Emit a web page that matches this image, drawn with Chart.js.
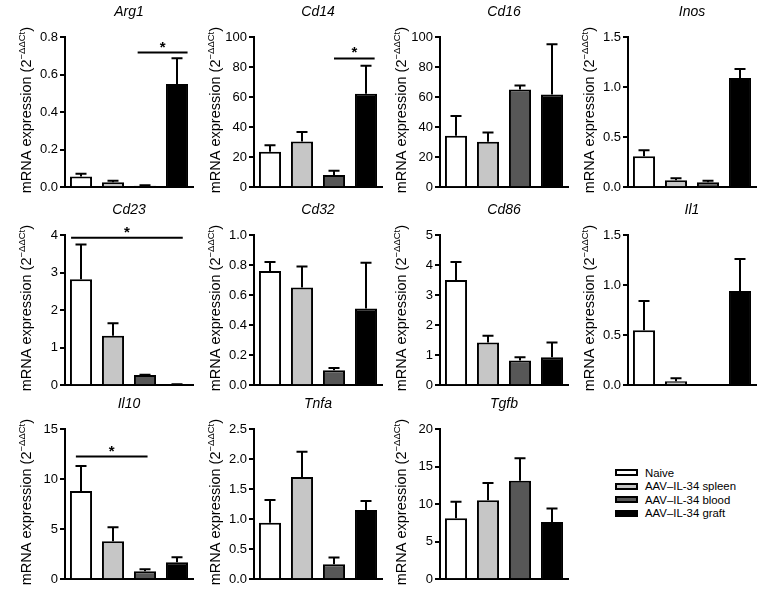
<!DOCTYPE html>
<html>
<head>
<meta charset="utf-8">
<script src="https://cdn.jsdelivr.net/npm/chart.js@4.4.0/dist/chart.umd.min.js"></script>
<style>
  body { margin: 0; background: #fff; font-family: "Liberation Sans", Arial, sans-serif; }
  #fig { position: relative; width: 772px; height: 596px; overflow: hidden; }
  #fig canvas { position: absolute; }
  #legend { position: absolute; left: 615px; top: 467px; font-size: 11.4px; color: #000; }
  #legend div { height: 13.4px; line-height: 13.4px; white-space: nowrap; }
  #legend span { display: inline-block; width: 19px; height: 3px; border: 2px solid #000; margin-right: 7px; vertical-align: middle; position: relative; top: -1px; }
</style>
</head>
<body>
<div id="fig">
  <div id="legend"></div>
</div>
<script>
const groups = ['Naive', 'AAV\u2013IL-34 spleen', 'AAV\u2013IL-34 blood', 'AAV\u2013IL-34 graft'];
const barColors = ['#ffffff', '#c6c6c6', '#575757', '#000000'];

// mean and SEM for each gene (Naive, spleen, blood, graft)
const arg1Mean = [0.057, 0.027, 0.008, 0.55];
const arg1Sem = [0.014, 0.007, 0.003, 0.137];
const cd14Mean = [23.6, 30.5, 8.2, 62.2];
const cd14Sem = [4.4, 6.3, 2.8, 18.6];
const cd16Mean = [34.2, 30.2, 65, 61.7];
const cd16Sem = [13.2, 6.2, 2.7, 33.5];
const inosMean = [0.31, 0.07, 0.05, 1.09];
const inosSem = [0.06, 0.02, 0.015, 0.09];
const cd23Mean = [2.82, 1.32, 0.27, 0.02];
const cd23Sem = [0.93, 0.33, 0.01, 0.005];
const cd32Mean = [0.76, 0.65, 0.10, 0.51];
const cd32Sem = [0.06, 0.14, 0.015, 0.305];
const cd86Mean = [3.5, 1.42, 0.82, 0.93];
const cd86Sem = [0.6, 0.23, 0.11, 0.49];
const il1Mean = [0.55, 0.04, 0, 0.94];
const il1Sem = [0.29, 0.03, 0, 0.32];
const il10Mean = [8.8, 3.8, 0.8, 1.7];
const il10Sem = [2.5, 1.4, 0.2, 0.5];
const tnfaMean = [0.94, 1.7, 0.25, 1.15];
const tnfaSem = [0.38, 0.42, 0.11, 0.15];
const tgfbMean = [8.1, 10.5, 13.1, 7.6];
const tgfbSem = [2.2, 2.3, 3.0, 1.8];

// y axis ranges: [max, step, decimals]
const arg1Axis = [0.8, 0.2, 1];
const cd14Axis = [100, 20, 0];
const cd16Axis = [100, 20, 0];
const inosAxis = [1.5, 0.5, 1];
const cd23Axis = [4, 1, 0];
const cd32Axis = [1, 0.2, 1];
const cd86Axis = [5, 1, 0];
const il1Axis = [1.5, 0.5, 1];
const il10Axis = [15, 5, 0];
const tnfaAxis = [2.5, 0.5, 1];
const tgfbAxis = [20, 5, 0];

// significance bars: [from category, to category, y value]
const arg1Sig = [1.77, 3.33, 0.717];
const cd14Sig = [2.0, 3.27, 85.7];
const cd23Sig = [-0.31, 3.18, 3.93];
const il10Sig = [-0.16, 2.08, 12.25];

const FONT = '"Liberation Sans", Arial, Helvetica, sans-serif';
const colX = [65, 253.5, 439.5, 628];
const rowTop = [37, 235, 429];
const AXIS_W = 60, PAD_TOP = 36, PAD_BOTTOM = 8, PAD_RIGHT = 8, PLOT_W = 128, PLOT_H = 152;

const extras = {
  id: 'extras',
  afterDatasetsDraw(chart, args, opts) {
    const ctx = chart.ctx;
    const xs = chart.scales.x, ys = chart.scales.y;
    const meta = chart.getDatasetMeta(0);
    ctx.save();
    ctx.strokeStyle = '#000';
    ctx.lineWidth = 2;
    // error bars (upper only)
    opts.sem.forEach((s, i) => {
      if (!s) return;
      const bar = meta.data[i];
      const top = ys.getPixelForValue(opts.mean[i] + s);
      ctx.beginPath();
      ctx.moveTo(bar.x, bar.y);
      ctx.lineTo(bar.x, top);
      ctx.moveTo(bar.x - 5.5, top);
      ctx.lineTo(bar.x + 5.5, top);
      ctx.stroke();
    });
    // significance line
    if (opts.sig) {
      const [a, b, v] = opts.sig;
      const x1 = xs.getPixelForValue(a), x2 = xs.getPixelForValue(b), yy = ys.getPixelForValue(v);
      ctx.beginPath();
      ctx.moveTo(x1, yy);
      ctx.lineTo(x2, yy);
      ctx.stroke();
      ctx.fillStyle = '#000';
      ctx.font = 'bold 15px ' + FONT;
      ctx.textAlign = 'center';
      ctx.textBaseline = 'alphabetic';
      ctx.fillText('*', (x1 + x2) / 2, yy - 1);
    }
    ctx.restore();
  },
  afterDraw(chart, args, opts) {
    const ctx = chart.ctx, area = chart.chartArea;
    ctx.save();
    ctx.fillStyle = '#000';
    // gene name
    ctx.font = 'italic 14px ' + FONT;
    ctx.textAlign = 'center';
    ctx.textBaseline = 'middle';
    ctx.fillText(opts.gene, (area.left + area.right) / 2, area.top - 25);
    // y axis title with superscript
    const main = 'mRNA expression (2', sup = '\u2212\u0394\u0394Ct', end = ')';
    const big = '14.5px ' + FONT, small = '9.5px ' + FONT;
    ctx.font = big;
    const w1 = ctx.measureText(main).width, w3 = ctx.measureText(end).width;
    ctx.font = small;
    const w2 = ctx.measureText(sup).width;
    ctx.translate(area.left - 38, (area.top + area.bottom) / 2 - 2);
    ctx.rotate(-Math.PI / 2);
    ctx.textAlign = 'left';
    let x = -(w1 + w2 + w3) / 2;
    ctx.font = big;
    ctx.fillText(main, x, 0);
    x += w1;
    ctx.font = small;
    ctx.fillText(sup, x, -5);
    x += w2;
    ctx.font = big;
    ctx.fillText(end, x, 0);
    ctx.restore();
  }
};

const makePanel = (gene, mean, sem, axis, col, row, sig) => {
  const canvas = document.createElement('canvas');
  const w = AXIS_W + PLOT_W + PAD_RIGHT, h = PAD_TOP + PLOT_H + PAD_BOTTOM;
  canvas.width = w;
  canvas.height = h;
  canvas.style.left = (colX[col] - AXIS_W) + 'px';
  canvas.style.top = (rowTop[row] - PAD_TOP) + 'px';
  canvas.style.width = w + 'px';
  canvas.style.height = h + 'px';
  document.getElementById('fig').appendChild(canvas);
  const [max, step, dec] = axis;
  new Chart(canvas, {
    type: 'bar',
    data: {
      labels: groups,
      datasets: [{
        data: mean,
        backgroundColor: barColors,
        borderColor: '#000',
        borderWidth: 2,
        barPercentage: 0.69,
        categoryPercentage: 1
      }]
    },
    options: {
      responsive: false,
      animation: false,
      devicePixelRatio: 1,
      layout: { padding: { top: PAD_TOP, bottom: PAD_BOTTOM, left: 0, right: PAD_RIGHT } },
      plugins: {
        legend: { display: false },
        tooltip: { enabled: false },
        extras: { gene, mean, sem, sig }
      },
      scales: {
        x: {
          offset: true,
          ticks: { display: false },
          grid: { drawOnChartArea: false, drawTicks: false, lineWidth: 2, color: '#000' },
          border: { color: '#000', width: 2 },
          afterFit: s => { s.height = 0; }
        },
        y: {
          min: 0,
          max: max,
          ticks: {
            stepSize: step,
            color: '#000',
            padding: 2,
            font: { family: FONT, size: 13 },
            callback: v => Number(v).toFixed(dec)
          },
          grid: { drawOnChartArea: false, drawTicks: true, tickLength: 5, lineWidth: 2, color: '#000' },
          border: { color: '#000', width: 2 },
          afterFit: s => { s.width = AXIS_W; }
        }
      }
    },
    plugins: [extras]
  });
};

makePanel('Arg1', arg1Mean, arg1Sem, arg1Axis, 0, 0, arg1Sig);
makePanel('Cd14', cd14Mean, cd14Sem, cd14Axis, 1, 0, cd14Sig);
makePanel('Cd16', cd16Mean, cd16Sem, cd16Axis, 2, 0, null);
makePanel('Inos', inosMean, inosSem, inosAxis, 3, 0, null);
makePanel('Cd23', cd23Mean, cd23Sem, cd23Axis, 0, 1, cd23Sig);
makePanel('Cd32', cd32Mean, cd32Sem, cd32Axis, 1, 1, null);
makePanel('Cd86', cd86Mean, cd86Sem, cd86Axis, 2, 1, null);
makePanel('Il1', il1Mean, il1Sem, il1Axis, 3, 1, null);
makePanel('Il10', il10Mean, il10Sem, il10Axis, 0, 2, il10Sig);
makePanel('Tnfa', tnfaMean, tnfaSem, tnfaAxis, 1, 2, null);
makePanel('Tgfb', tgfbMean, tgfbSem, tgfbAxis, 2, 2, null);

// legend
const legend = document.getElementById('legend');
groups.forEach((g, i) => {
  const row = document.createElement('div');
  const box = document.createElement('span');
  box.style.background = barColors[i];
  row.appendChild(box);
  row.appendChild(document.createTextNode(g));
  legend.appendChild(row);
});
</script>
</body>
</html>
